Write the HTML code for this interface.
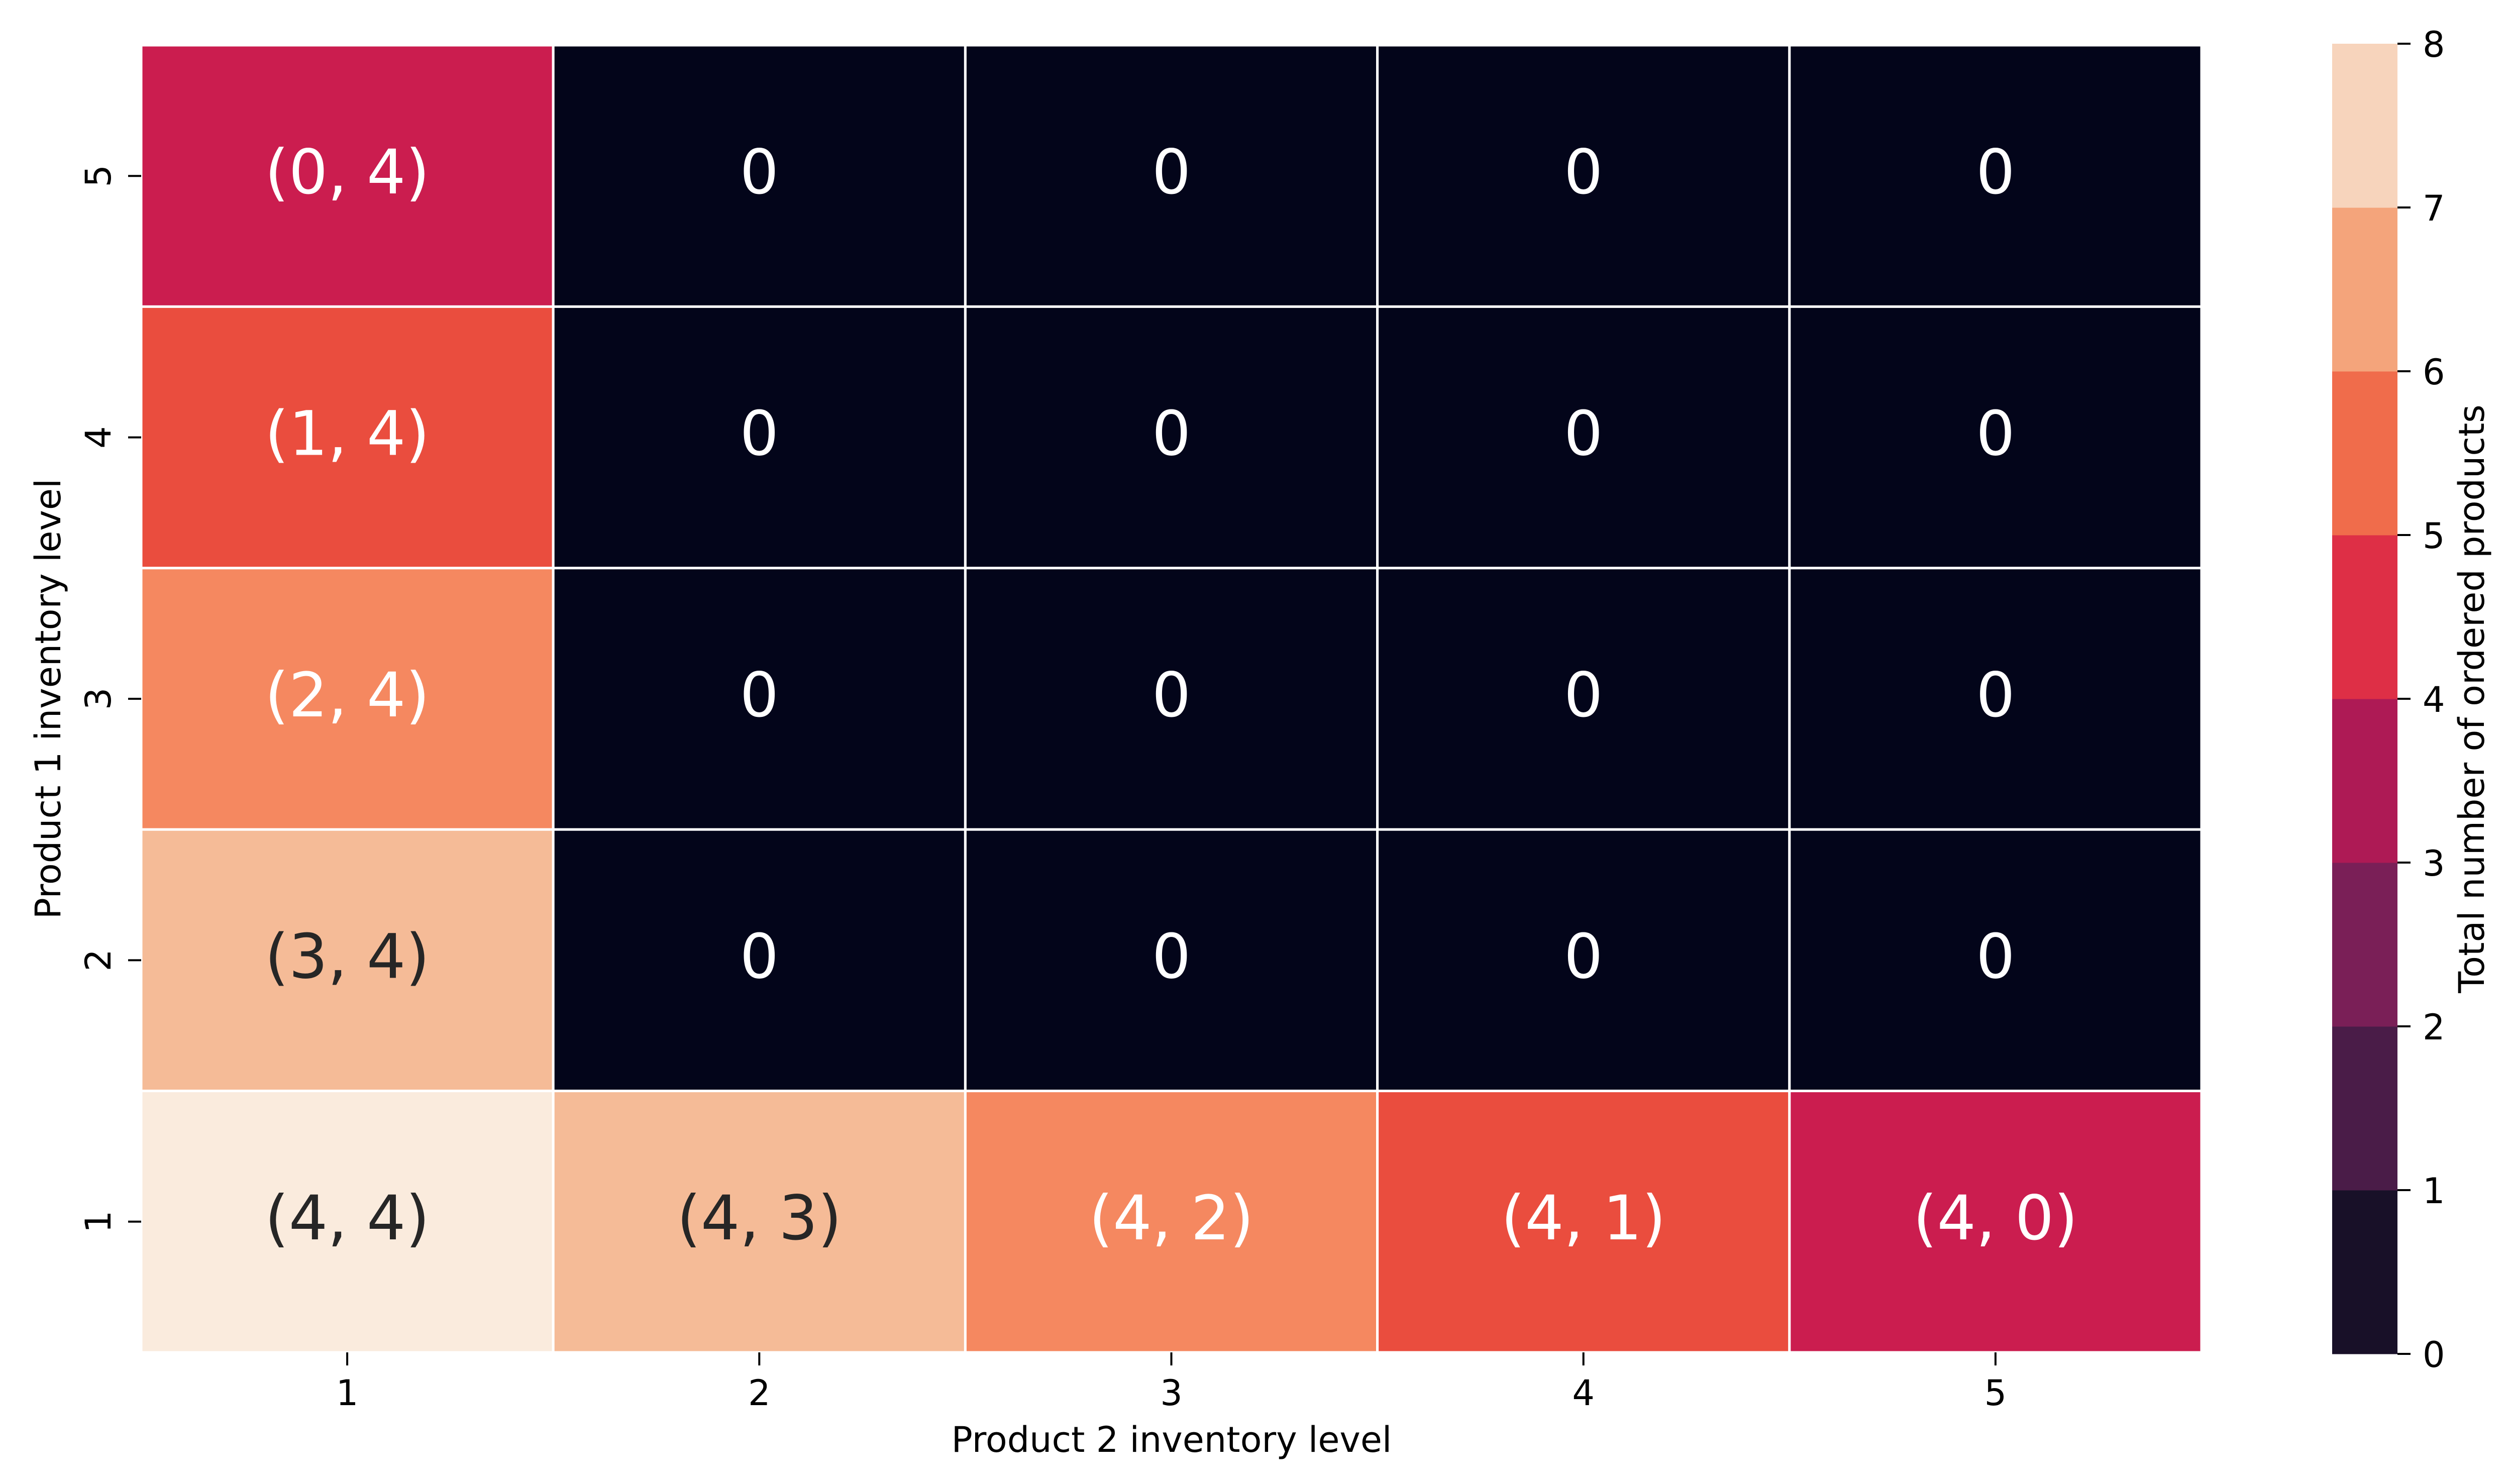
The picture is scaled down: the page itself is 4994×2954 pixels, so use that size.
<!DOCTYPE html>
<html><head><meta charset="utf-8"><style>
html,body{margin:0;padding:0;background:#fff;}
svg{display:block;}
text{font-family:"DejaVu Sans","Liberation Sans",sans-serif;}
</style></head><body>
<svg id="chart" xmlns="http://www.w3.org/2000/svg" width="4994" height="2954" viewBox="0 0 4994 2954">
<rect x="0" y="0" width="4994" height="2954" fill="#ffffff"/>
<g id="cells"></g>
<g id="axes"></g>
<g id="cbar"></g>
<text x="2332" y="2890" font-size="70" text-anchor="middle" fill="#000">Product 2 inventory level</text>
<text transform="translate(120,1391) rotate(-90)" font-size="70" text-anchor="middle" fill="#000">Product 1 inventory level</text>
<text transform="translate(4944,1391) rotate(-90)" font-size="70" text-anchor="middle" fill="#000">Total number of ordered products</text>
</svg>
<script>
// Data (rows listed top to bottom: product 1 level 5..1; columns product 2 level 1..5)
const xCategories = ["1","2","3","4","5"];
const yCategories = ["5","4","3","2","1"];
const row5 = [4,0,0,0,0];
const row4 = [5,0,0,0,0];
const row3 = [6,0,0,0,0];
const row2 = [7,0,0,0,0];
const row1 = [8,7,6,5,4];
const labels5 = ["(0, 4)","0","0","0","0"];
const labels4 = ["(1, 4)","0","0","0","0"];
const labels3 = ["(2, 4)","0","0","0","0"];
const labels2 = ["(3, 4)","0","0","0","0"];
const labels1 = ["(4, 4)","(4, 3)","(4, 2)","(4, 1)","(4, 0)"];
const cbarTicks = [0,1,2,3,4,5,6,7,8];
const cbarLevelColors = ["#181028","#4a1c48","#7a1f57","#ae1a55","#de2f46","#f06c4b","#f4a47b","#f7d4bc"];

const NS = "http://www.w3.org/2000/svg";
const L = 281, R = 4382, T = 90, B = 2692;
const CW = (R - L) / xCategories.length, CH = (B - T) / yCategories.length;
const xPos = i => L + i * CW;
const yPos = j => T + j * CH;
const CB = {x: 4642, w: 130, top: 87, bot: 2695, min: 0, max: 8};
const cbY = v => CB.bot - (v - CB.min) / (CB.max - CB.min) * (CB.bot - CB.top);

const stops = [[0,[3,5,26]],[4,[203,29,79]],[5,[234,77,62]],[6,[245,136,96]],[7,[245,187,151]],[8,[250,235,221]]];
function colorFor(v){
  for(let k=0;k<stops.length-1;k++){
    const a=stops[k], b=stops[k+1];
    if(v<=b[0]){
      const t=(v-a[0])/(b[0]-a[0]);
      const c=a[1].map((c0,i)=>Math.round(c0+(b[1][i]-c0)*t));
      return "rgb("+c.join(",")+")";
    }
  }
  return "rgb(250,235,221)";
}
function mk(tag, attrs){
  const e=document.createElementNS(NS,tag);
  for(const k in attrs) e.setAttribute(k,attrs[k]);
  return e;
}
const rows=[row5,row4,row3,row2,row1];
const labs=[labels5,labels4,labels3,labels2,labels1];
const cells=document.getElementById("cells");
rows.forEach((row,j)=>{
  row.forEach((v,i)=>{
    const r=mk("rect",{x:xPos(i),y:yPos(j),width:CW,height:CH,fill:colorFor(v),stroke:"#ffffff","stroke-width":5});
    
    
    cells.appendChild(r);
    const t=mk("text",{x:xPos(i)+CW/2,y:yPos(j)+CH/2+35,"font-size":122,"text-anchor":"middle",fill:(v>=7?"#262626":"#ffffff")});
    t.textContent=labs[j][i];
    
    
    cells.appendChild(t);
  });
});
const axes=document.getElementById("axes");
xCategories.forEach((c,i)=>{
  const cx=xPos(i)+CW/2;
  const tk=mk("line",{x1:cx,y1:B,x2:cx,y2:B+26,stroke:"#000","stroke-width":4});
  
  
  axes.appendChild(tk);
  const t=mk("text",{x:cx,y:2797,"font-size":70,"text-anchor":"middle",fill:"#000"});
  t.textContent=c;
  
  
  axes.appendChild(t);
});
yCategories.forEach((c,j)=>{
  const cy=yPos(j)+CH/2;
  const tk=mk("line",{x1:L,y1:cy,x2:L-26,y2:cy,stroke:"#000","stroke-width":4});
  
  
  axes.appendChild(tk);
  const t=mk("text",{transform:"translate(220,"+cy+") rotate(-90)","font-size":70,"text-anchor":"middle",fill:"#000"});
  t.textContent=c;
  
  
  axes.appendChild(t);
});
const cbar=document.getElementById("cbar");
cbarLevelColors.forEach((col,k)=>{
  const y1=cbY(k+1), y2=cbY(k);
  const r=mk("rect",{x:CB.x,y:y1,width:CB.w,height:y2-y1+0.5,fill:col});
  
  
  cbar.appendChild(r);
});
cbarTicks.forEach(v=>{
  const y=cbY(v);
  const tk=mk("line",{x1:CB.x+CB.w,y1:y,x2:CB.x+CB.w+26,y2:y,stroke:"#000","stroke-width":4});
  
  
  cbar.appendChild(tk);
  const t=mk("text",{x:4822,y:y+26,"font-size":70,fill:"#000"});
  t.textContent=String(v);
  
  
  cbar.appendChild(t);
});
</script>
</body></html>
